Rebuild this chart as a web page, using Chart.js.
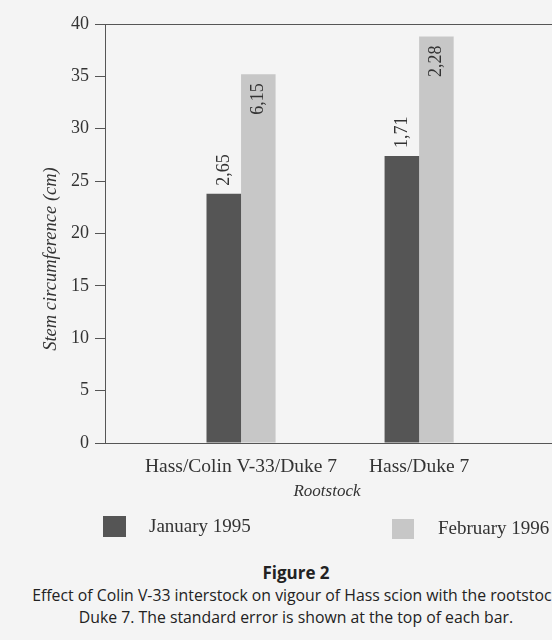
<!DOCTYPE html>
<html><head><meta charset="utf-8">
<script src="https://cdn.jsdelivr.net/npm/chart.js@4/dist/chart.umd.min.js"></script>
<style>
html,body{margin:0;padding:0;background:#f4f4f4;width:552px;height:640px;overflow:hidden;position:relative;}
#wrap{position:absolute;left:0;top:0;width:615px;height:548px;}
.cap{position:absolute;left:0;width:592px;text-align:center;white-space:nowrap;font-family:"Open Sans",sans-serif;color:#222;line-height:22px;}
</style></head><body>
<div id="wrap"><canvas id="c"></canvas></div>
<div class="cap" style="top:562px;font-weight:bold;font-size:17px;">Figure 2</div>
<div class="cap" style="top:584px;font-size:15.8px;">Effect of Colin V-33 interstock on vigour of Hass scion with the rootstock</div>
<div class="cap" style="top:606px;font-size:15.8px;">Duke 7. The standard error is shown at the top of each bar.</div>
<script>
const categories = ['Hass/Colin V-33/Duke 7', 'Hass/Duke 7'];
const categoryPositions = [1, 2];
const seriesNames = ['January 1995', 'February 1996'];
const jan1995 = [23.8, 27.4];
const feb1996 = [35.2, 38.8];
const jan1995SE = ['2,65', '1,71'];
const feb1996SE = ['6,15', '2,28'];
const yMin = 0, yMax = 40, yStep = 5;
const yTitle = 'Stem circumference (cm)';
const xTitle = 'Rootstock';

const SERIF = '"Liberation Serif", "DejaVu Serif", serif';
const TXT = '#333';
const AXIS = '#555';

const labelPlugin = {
  id: 'seLabels',
  afterDatasetsDraw(chart) {
    const ctx = chart.ctx;
    ctx.save();
    ctx.font = '18px ' + SERIF;
    ctx.fillStyle = TXT;
    ctx.textBaseline = 'middle';
    ctx.textAlign = 'left';
    chart.data.datasets.forEach((ds, di) => {
      const meta = chart.getDatasetMeta(di);
      meta.data.forEach((bar, i) => {
        const txt = ds.seLabels[i];
        const w = ctx.measureText(txt).width;
        const start = ds.labelInside ? bar.y + 9 + w : bar.y - 8;
        ctx.save();
        ctx.translate(bar.x, start);
        ctx.rotate(-Math.PI / 2);
        ctx.fillText(txt, 0, 0);
        ctx.restore();
      });
    });
    ctx.restore();
  }
};

const decorPlugin = {
  id: 'decor',
  afterDraw(chart) {
    const ctx = chart.ctx;
    ctx.save();
    ctx.fillStyle = TXT;
    ctx.font = 'italic 18.5px ' + SERIF;
    ctx.textAlign = 'center';
    ctx.textBaseline = 'middle';
    ctx.save();
    ctx.translate(51, 259);
    ctx.rotate(-Math.PI / 2);
    ctx.fillText(yTitle, 0, 0);
    ctx.restore();
    ctx.font = 'italic 17px ' + SERIF;
    ctx.fillText(xTitle, 327, 492);
    const boxes = [[103, 516, 23, 21, 149, 527], [392, 519, 22, 20, 438, 529]];
    chart.data.datasets.forEach((ds, i) => {
      const b = boxes[i];
      ctx.fillStyle = ds.backgroundColor;
      ctx.fillRect(b[0], b[1], b[2], b[3]);
      ctx.fillStyle = TXT;
      ctx.font = '19px ' + SERIF;
      ctx.textAlign = 'left';
      ctx.fillText(ds.label, b[4], b[5]);
    });
    ctx.restore();
  }
};

new Chart(document.getElementById('c'), {
  type: 'bar',
  data: {
    datasets: [
      {
        label: seriesNames[0],
        data: categoryPositions.map((x, i) => ({ x: x, y: jan1995[i] })),
        backgroundColor: '#555555',
        seLabels: jan1995SE,
        labelInside: false
      },
      {
        label: seriesNames[1],
        data: categoryPositions.map((x, i) => ({ x: x, y: feb1996[i] })),
        backgroundColor: '#c7c7c7',
        seLabels: feb1996SE,
        labelInside: true
      }
    ]
  },
  options: {
    responsive: true,
    maintainAspectRatio: false,
    animation: false,
    categoryPercentage: 0.388,
    barPercentage: 1.0,
    layout: { padding: { top: 24, left: 0, right: 0, bottom: 0 } },
    plugins: { legend: { display: false }, tooltip: { enabled: false } },
    scales: {
      x: {
        type: 'linear',
        min: 0.236,
        max: 3.1,
        offset: false,
        afterBuildTicks(scale) { scale.ticks = categoryPositions.map(v => ({ value: v })); },
        afterFit(scale) { scale.height = 105; },
        grid: { display: false },
        border: { display: true, color: AXIS, width: 1 },
        ticks: {
          padding: 4,
          color: TXT,
          font: { family: SERIF, size: 19.5 },
          callback: (v) => categories[categoryPositions.indexOf(v)] || ''
        }
      },
      y: {
        min: yMin,
        max: yMax,
        afterFit(scale) { scale.width = 105; },
        ticks: { stepSize: yStep, padding: 6, color: TXT, font: { family: SERIF, size: 18 } },
        grid: {
          color: (c) => (c.tick && c.tick.value === yMax ? AXIS : 'rgba(0,0,0,0)'),
          tickColor: AXIS,
          tickLength: 10,
          lineWidth: 1
        },
        border: { display: true, color: AXIS, width: 1 }
      }
    }
  },
  plugins: [labelPlugin, decorPlugin]
});
</script>
</body></html>
